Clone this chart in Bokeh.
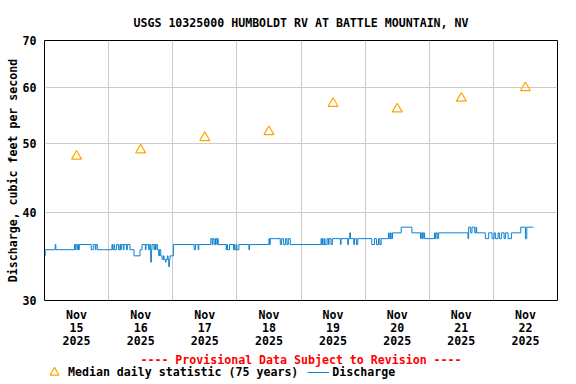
import pandas as pd
from bokeh.plotting import figure
from bokeh.layouts import column
from bokeh.models import (Range1d, FixedTicker, DatetimeTickFormatter, PrintfTickFormatter,
                          Legend, LegendItem)
from bokeh.embed import file_html
from bokeh.resources import INLINE

# ---------------- data ----------------
title_text = "USGS 10325000 HUMBOLDT RV AT BATTLE MOUNTAIN, NV"
provisional_text = "---- Provisional Data Subject to Revision ----"
y_label = "Discharge, cubic feet per second"
median_label = "Median daily statistic (75 years)"
discharge_label = "Discharge"

series_start = "2025-11-15 00:00"
day_starts = ["2025-11-15", "2025-11-16", "2025-11-17", "2025-11-18",
              "2025-11-19", "2025-11-20", "2025-11-21", "2025-11-22"]

# median daily statistic (75 years), one value per day (cfs)
median_cfs = [48, 49, 51, 52, 57, 56, 58, 60]

# discharge, step changes: hours after series start and value (cfs)
q_hours = [0.0, 0.25, 4.0, 4.25,
           11.25, 11.5, 11.75, 12.25, 12.5, 12.75, 13.0,
           17.5, 18.25, 19.0, 19.25, 19.75,
           25.25, 25.5, 26.0, 26.25, 27.0, 27.75, 28.25, 28.5, 28.75, 29.5, 29.75, 30.75,
           31.0, 32.0, 33.5, 35.75, 36.5,
           37.75, 38.0, 39.0, 39.25, 39.75, 40.0, 40.25,
           41.0, 41.25, 41.5, 41.75, 42.25, 42.75, 43.0, 43.5,
           44.0, 44.5, 44.75, 45.25, 45.5, 46.0, 46.25, 46.5, 46.75, 47.0,
           48.25, 56.0, 56.5, 57.5, 57.75,
           62.25, 62.75, 63.0, 63.5, 64.0, 64.5, 64.75, 65.0,
           68.0, 68.25, 68.5, 69.25, 70.75, 71.0, 71.25, 71.75, 72.0, 72.75,
           76.5, 76.75, 84.0, 84.25, 84.5,
           88.25, 88.75, 89.5, 90.25, 90.75, 91.25, 92.0,
           103.5, 103.75, 104.0, 104.25, 104.75, 105.0, 105.75, 106.25, 106.5, 107.25, 107.75,
           110.75, 111.0, 113.5, 113.75, 114.25, 114.5, 115.75, 116.0, 116.75, 117.25,
           122.5, 123.5, 124.25, 125.0, 125.5, 126.0,
           128.75, 129.0, 129.5, 129.75, 130.25, 133.5, 137.5,
           140.75, 141.0, 141.5, 141.75, 142.25,
           146.0, 146.25, 146.5, 147.0, 147.5,
           158.5, 158.75, 159.5, 160.0, 161.0, 161.5, 161.75,
           165.0, 166.25, 167.5, 168.25, 168.75, 169.75, 170.25, 171.0, 172.0, 172.5,
           173.5, 174.75,
           178.25, 180.0, 180.5, 183.0]
q_cfs = [34.7, 35.4, 36.0, 35.4,
         36.0, 35.4, 36.0, 35.4, 36.0, 35.4, 36.0,
         35.4, 36.0, 35.4, 36.0, 35.4,
         36.0, 35.4, 36.0, 35.4, 36.0, 35.4, 36.0, 35.4, 36.0, 35.4, 36.0, 35.4,
         36.0, 35.4, 34.7, 35.4, 36.0,
         35.4, 36.0, 35.4, 36.0, 34.0, 35.4, 36.0,
         35.4, 36.0, 35.4, 36.0, 35.4, 34.7, 35.4, 34.7,
         34.3, 34.7, 34.3, 34.0, 34.3, 34.7, 34.3, 33.5, 34.3, 34.7,
         36.0, 35.4, 36.0, 35.4, 36.0,
         36.7, 36.0, 36.7, 36.0, 36.7, 36.0, 36.7, 36.0,
         35.4, 36.0, 35.4, 36.0, 35.4, 36.0, 35.4, 36.0, 35.4, 36.0,
         35.4, 36.0, 36.7, 36.0, 36.7,
         36.0, 36.7, 36.0, 36.7, 36.0, 36.7, 36.0,
         36.7, 36.0, 36.7, 36.0, 36.7, 36.0, 36.7, 36.0, 36.7, 36.0, 36.7,
         36.0, 36.7, 36.0, 36.7, 37.4, 36.7, 36.0, 36.7, 36.0, 36.7,
         36.0, 36.7, 36.0, 36.7, 36.0, 36.7,
         37.4, 36.7, 37.4, 36.7, 37.4, 38.1, 37.4,
         36.7, 37.4, 36.7, 37.4, 36.7,
         37.4, 36.7, 37.4, 36.7, 37.4,
         36.7, 38.1, 37.4, 38.1, 37.4, 38.1, 37.4,
         36.7, 37.4, 36.7, 37.4, 36.7, 37.4, 36.7, 37.4, 36.7, 37.4,
         36.7, 37.4,
         38.1, 36.7, 38.1, 38.1]

y_ticks = [30, 40, 50, 60, 70]
y_grid = [40, 50, 60]

# ---------------- derived ----------------
FONT = "DejaVu Sans Mono"
FS = "11.6px"
ORANGE = "#FFA500"
BLUE = "#0A80D0"

start = pd.Timestamp(series_start)
q_time = [start + pd.Timedelta(hours=h) for h in q_hours]
day_ts = [pd.Timestamp(d) for d in day_starts]
noon_ts = [d + pd.Timedelta(hours=12) for d in day_ts]
end = day_ts[-1] + pd.Timedelta(days=1)

def ms(t):
    return t.value // 10**6

W, H = 576, 384
p = figure(width=W, height=H, x_axis_type="datetime", y_axis_type="log",
           x_range=Range1d(start, end), y_range=Range1d(y_ticks[0], y_ticks[-1]),
           output_backend="svg", toolbar_location=None,
           min_border_left=44, min_border_right=W - 557,
           min_border_top=40, min_border_bottom=H - 300)

p.title.text = title_text
p.title.align = "center"
p.title.text_font = FONT
p.title.text_font_size = FS
p.title.text_font_style = "bold"
p.title.text_color = "black"
p.title.standoff = 22

p.outline_line_color = "black"
p.outline_line_width = 1
p.background_fill_color = "white"
p.border_fill_color = "white"

# grids
p.xgrid.ticker = FixedTicker(ticks=[ms(d) for d in day_ts[1:]])
p.ygrid.ticker = FixedTicker(ticks=y_grid)
p.grid.grid_line_color = "#CCCCCC"
p.grid.grid_line_width = 1

# axes
for ax in (p.xaxis[0], p.yaxis[0]):
    ax.axis_line_color = None
    ax.major_tick_line_color = None
    ax.minor_tick_line_color = None
    ax.major_tick_out = 0
    ax.major_tick_in = 0
    ax.minor_tick_out = 0
    ax.minor_tick_in = 0
    ax.major_label_text_font = FONT
    ax.major_label_text_font_size = FS
    ax.major_label_text_font_style = "bold"
    ax.major_label_text_color = "black"
    ax.axis_label_text_font = FONT
    ax.axis_label_text_font_size = FS
    ax.axis_label_text_font_style = "bold"

fmt = "%b\n%d\n%Y"
p.xaxis.ticker = FixedTicker(ticks=[ms(t) for t in noon_ts])
p.xaxis.formatter = DatetimeTickFormatter(
    microseconds=fmt, milliseconds=fmt, seconds=fmt, minsec=fmt, minutes=fmt,
    hourmin=fmt, hours=fmt, days=fmt, months=fmt, years=fmt)
p.xaxis.major_label_standoff = 7
p.xaxis.major_label_text_line_height = 0.96
# provisional-data note shown under the date labels
p.xaxis.axis_label = provisional_text
p.xaxis.axis_label_text_color = "#FF0000"
p.xaxis.axis_label_standoff = 2

p.yaxis.ticker = FixedTicker(ticks=y_ticks)
p.yaxis.formatter = PrintfTickFormatter(format="%d")
p.yaxis.major_label_standoff = 8
p.yaxis.axis_label = y_label
p.yaxis.axis_label_text_color = "black"
p.yaxis.axis_label_standoff = 0

# glyphs
p.step(q_time, q_cfs, mode="after", line_color=BLUE, line_width=1)
p.scatter(noon_ts, median_cfs, marker="triangle", size=10,
          fill_color=None, line_color=ORANGE, line_width=1.2)

# ---- legend strip, laid over the bottom of the chart ----
# (same series with the same styles; its ranges keep the marks out of view,
#  so only the legend entries are drawn)
LH = 22
leg = figure(width=W, height=LH, output_backend="svg", toolbar_location=None,
             x_axis_location=None, y_axis_location=None,
             x_range=Range1d(0, 1), y_range=Range1d(0, 1),
             min_border=0, margin=(-(H - 361), 0, 0, 0))
leg.grid.visible = False
leg.outline_line_color = None
leg.background_fill_alpha = 0
leg.border_fill_alpha = 0
leg_tri = leg.scatter(x=noon_ts, y=median_cfs, marker="triangle", fill_color=None,
                      line_color=ORANGE, line_width=1.2)
leg_line = leg.line(x=q_time, y=q_cfs, line_color=BLUE, line_width=1)

legend = Legend(items=[LegendItem(label=median_label, renderers=[leg_tri]),
                       LegendItem(label=discharge_label, renderers=[leg_line])],
                orientation="horizontal", location=(-1, 0),
                label_text_font=FONT, label_text_font_size=FS,
                label_text_font_style="bold", label_text_color="black",
                glyph_width=LH, glyph_height=LH, label_height=LH,
                label_standoff=3, spacing=9, padding=0, margin=0,
                border_line_color=None, background_fill_alpha=0)
leg.add_layout(legend)

layout = column(p, leg, spacing=0)
open("out.html", "w").write(file_html(layout, INLINE))
